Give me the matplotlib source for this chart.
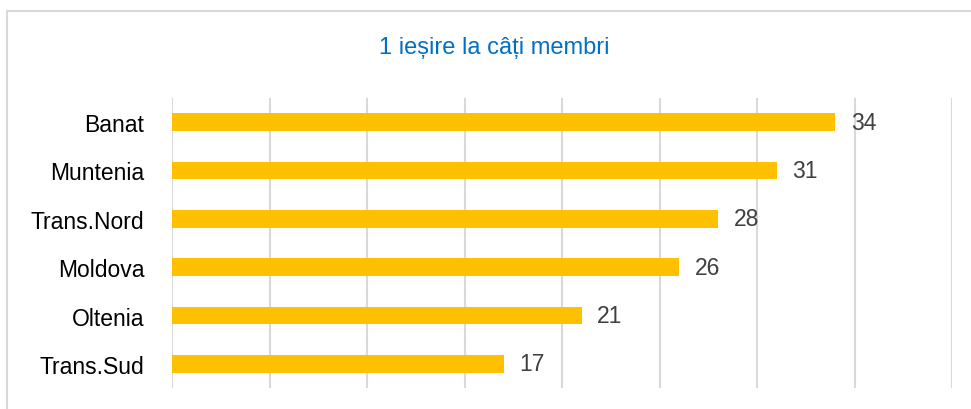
import matplotlib.pyplot as plt
from matplotlib.patches import Rectangle

# date
regiuni = ["Banat", "Muntenia", "Trans.Nord", "Moldova", "Oltenia", "Trans.Sud"]
valori = [34, 31, 28, 26, 21, 17]
titlu = "1 ieșire la câți membri"

plt.rcParams['font.family'] = ['Liberation Sans', 'DejaVu Sans']

fig = plt.figure(figsize=(9.71, 4.10), dpi=100)
ax = fig.add_axes([172 / 971, 1 - 389 / 410, (952 - 172) / 971, (389 - 99) / 410])

# chenar gri (doar sus si stanga se vad)
fig.patches.append(Rectangle((7 / 971, -0.1), 1.2, 1.1 - 12 / 410,
                             transform=fig.transFigure, fill=False,
                             edgecolor="#D9D9D9", linewidth=1.5))

y = list(range(len(regiuni)))
ax.barh(y, valori, height=0.36, color="#FFC000", zorder=3)
for yi, v in zip(y, valori):
    ax.text(v + 0.8, yi, str(v), va='center', ha='left', fontsize=16.5, color="#404040")

ax.set_xlim(0, 40)
ax.set_ylim(len(regiuni) - 0.5, -0.5)
ax.set_xticks(range(0, 41, 5))
ax.set_xticklabels([])
ax.set_yticks(y)
ax.set_yticklabels(regiuni, fontsize=16.5, color="black")
ax.tick_params(length=0, pad=20)
ax.grid(axis='x', color="#D9D9D9", linewidth=1.5, zorder=0)
for s in ax.spines.values():
    s.set_visible(False)

fig.text(494 / 971, 1 - 48 / 410, titlu, ha='center', va='center', fontsize=17, color="#0070C0")

plt.savefig("out.png", dpi=100)
